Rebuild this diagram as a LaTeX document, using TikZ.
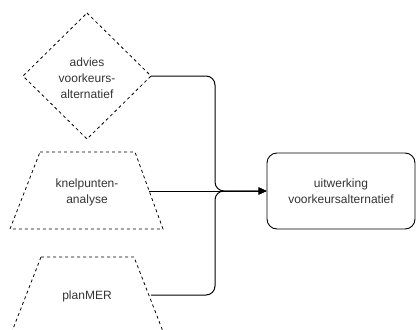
\documentclass[tikz,border=0pt]{standalone}
\usepackage{fontspec}
\setmainfont{Liberation Sans}
\usetikzlibrary{arrows.meta}
\definecolor{labelgray}{HTML}{333333}
\begin{document}
\begin{tikzpicture}[x=1pt,y=-1pt,
  shapeline/.style={draw=black,line width=0.8pt,dash pattern=on 3pt off 3pt},
  label/.style={text=labelgray,font=\fontsize{12}{16}\selectfont,align=center},
  flow/.style={draw=black,line width=1pt,rounded corners=9pt,-{Triangle[length=8pt,width=7pt]}},
  target/.style={draw=black,line width=0.9pt,rounded corners=10pt,minimum width=148pt,minimum height=76pt,inner sep=0pt}]
  \useasboundingbox (0,0) rectangle (417,329);
  \begin{scope}
    \clip (0,0) rectangle (417,329);
    % dashed input shapes
    \draw[shapeline] (87,13) -- (151,76) -- (87,139) -- (23,76) -- cycle;
    \draw[shapeline] (40,152) -- (135,152) -- (163,229) -- (10,229) -- cycle;
    \draw[shapeline] (41,257) -- (134,257) -- (164,334) -- (11,334) -- cycle;
  \end{scope}
  % labels
  \node[label] (advies) at (87,78) {advies\\voorkeurs-\\alternatief};
  \node[label] (knel) at (87,192) {knelpunten-\\analyse};
  \node[label] (plan) at (87,296) {planMER};
  % exits on the right side of each shape
  \coordinate (adviesR) at (151,76);
  \coordinate (knelR) at (149,191);
  \coordinate (planR) at (151,295);
  \coordinate (join) at (215,191);
  % target box
  \node[target,label] (box) at (341,191) {uitwerking\\voorkeursalternatief};
  % connectors
  \draw[flow] (adviesR) -| (join) -- (box.west);
  \draw[flow] (knelR) -- (box.west);
  \draw[flow] (planR) -| (join) -- (box.west);
\end{tikzpicture}
\end{document}
